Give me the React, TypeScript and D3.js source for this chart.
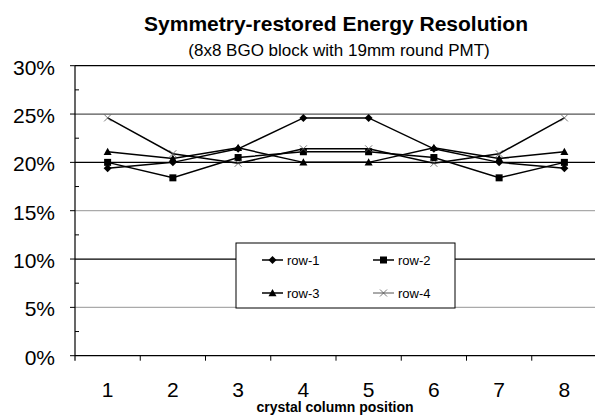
import React from "react";
import * as d3 from "d3";

const categories = ["1", "2", "3", "4", "5", "6", "7", "8"];
const seriesNames = ["row-1", "row-2", "row-3", "row-4"];
const row1 = [19.4, 20.0, 21.4, 24.6, 24.6, 21.4, 20.0, 19.4];
const row2 = [20.0, 18.4, 20.5, 21.1, 21.1, 20.5, 18.4, 20.0];
const row3 = [21.1, 20.4, 21.5, 20.0, 20.0, 21.5, 20.4, 21.1];
const row4 = [24.6, 20.9, 19.9, 21.4, 21.4, 19.9, 20.9, 24.6];
const yTicks = [0, 5, 10, 15, 20, 25, 30];

const W = 595, H = 416;
const left = 75, right = 597, top = 65.7, bottom = 355.7;

function Marker({ kind, x, y }: { kind: number; x: number; y: number }) {
  if (kind === 0) {
    const s = 4;
    return <path d={`M${x},${y - s}L${x + s},${y}L${x},${y + s}L${x - s},${y}Z`} fill="#000" />;
  }
  if (kind === 1) {
    const s = 3.5;
    return <rect x={x - s} y={y - s} width={2 * s} height={2 * s} fill="#000" />;
  }
  if (kind === 2) {
    const s = 4;
    return <path d={`M${x},${y - s}L${x + s},${y + s * 0.8}L${x - s},${y + s * 0.8}Z`} fill="#000" />;
  }
  const s = 3.5;
  return (
    <path d={`M${x - s},${y - s}L${x + s},${y + s}M${x - s},${y + s}L${x + s},${y - s}`} stroke="#555" strokeWidth={0.8} fill="none" />
  );
}

export default function App() {
  const x = d3.scaleBand<string>().domain(categories).range([left, right]);
  const y = d3.scaleLinear().domain([0, 30]).range([bottom, top]);
  const series = [row1, row2, row3, row4];
  const line = d3
    .line<number>()
    .x((_, i) => (x(categories[i]) as number) + x.bandwidth() / 2)
    .y((d) => y(d));
  const minor = d3.range(0, 30, 2.5).filter((v) => v % 5 !== 0);
  const font = "Arial, 'Liberation Sans', sans-serif";
  const lgX = 236, lgY = 243, lgW = 219, lgH = 65;
  const legendPos = [
    [262, 260],
    [373, 260],
    [262, 293],
    [373, 293],
  ];
  return (
    <svg width={W} height={H} style={{ position: "absolute", left: 0, top: 0 }} fontFamily={font}>
      <rect width={W} height={H} fill="#fff" />
      <text x={336} y={31} textAnchor="middle" fontWeight="bold" fontSize={21}>
        Symmetry-restored Energy Resolution
      </text>
      <text x={339} y={56} textAnchor="middle" fontSize={17}>
        (8x8 BGO block with 19mm round PMT)
      </text>
      {yTicks.map((t) => (
        <line
          key={t}
          x1={left}
          x2={W}
          y1={y(t)}
          y2={y(t)}
          stroke={t === 15 || t === 5 ? "#aaa" : t === 25 ? "#555" : "#000"}
          strokeWidth={1.2}
        />
      ))}
      <line x1={left} x2={left} y1={top} y2={bottom + 5} stroke="#000" strokeWidth={1.2} />
      {yTicks.map((t) => (
        <line key={"t" + t} x1={left - 5} x2={left} y1={y(t)} y2={y(t)} stroke="#000" strokeWidth={1} />
      ))}
      {minor.map((t) => (
        <line key={"m" + t} x1={left} x2={left + 4} y1={y(t)} y2={y(t)} stroke="#000" strokeWidth={1} />
      ))}
      {yTicks.map((t) => (
        <text key={"l" + t} x={55} y={y(t) + 9} textAnchor="end" fontSize={21}>
          {t}%
        </text>
      ))}
      {categories.map((c) => (
        <line
          key={"xt" + c}
          x1={(x(c) as number) + x.bandwidth()}
          x2={(x(c) as number) + x.bandwidth()}
          y1={bottom}
          y2={bottom + 5}
          stroke="#000"
          strokeWidth={1}
        />
      ))}
      {categories.map((c) => (
        <text key={"xl" + c} x={(x(c) as number) + x.bandwidth() / 2} y={397} textAnchor="middle" fontSize={21}>
          {c}
        </text>
      ))}
      <text x={335} y={412} textAnchor="middle" fontWeight="bold" fontSize={14}>
        crystal column position
      </text>
      {series.map((s, k) => (
        <path key={"s" + k} d={line(s) || ""} fill="none" stroke="#000" strokeWidth={1.5} />
      ))}
      {series.map((s, k) =>
        s.map((v, i) => (
          <Marker key={k + "-" + i} kind={k} x={(x(categories[i]) as number) + x.bandwidth() / 2} y={y(v)} />
        ))
      )}
      <rect x={lgX} y={lgY} width={lgW} height={lgH} fill="#fff" stroke="#000" strokeWidth={1} />
      {seriesNames.map((n, k) => (
        <g key={n}>
          <line
            x1={legendPos[k][0]}
            x2={legendPos[k][0] + 21}
            y1={legendPos[k][1]}
            y2={legendPos[k][1]}
            stroke={k === 3 ? "#555" : "#000"}
            strokeWidth={k === 3 ? 1 : 1.5}
          />
          <Marker kind={k} x={legendPos[k][0] + 10.5} y={legendPos[k][1]} />
          <text x={legendPos[k][0] + 25} y={legendPos[k][1]} dy="0.35em" fontSize={13}>
            {n}
          </text>
        </g>
      ))}
    </svg>
  );
}
